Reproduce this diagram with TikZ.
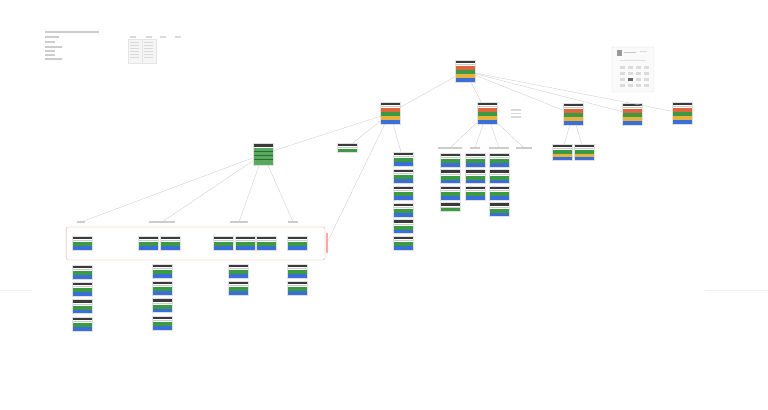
\documentclass[tikz,border=0pt]{standalone}
\usetikzlibrary{positioning}

\definecolor{hdr}{HTML}{3A3A3A}
\definecolor{cardred}{HTML}{E0663F}
\definecolor{cardgreen}{HTML}{3C9A44}
\definecolor{cardyellow}{HTML}{E8B13A}
\definecolor{cardblue}{HTML}{3A6FD8}
\definecolor{linegray}{HTML}{C4C4C4}
\definecolor{boxred}{HTML}{E49C9C}

% one coloured band of a card, #2 = offset from the top, #3 = height (px)
\newcommand{\band}[3]{\fill[#1] (path picture bounding box.north west) ++(0,#2) rectangle ++(30,#3);}

\begin{document}
\begin{tikzpicture}[x=0.5mm, y=-0.5mm]
        % Style Definitions
        \tikzstyle{card} = [rectangle, draw=black!12, fill=white, minimum width=10mm, inner sep=0pt, anchor=north]
        \tikzstyle{full} = [card, minimum height=11mm, path picture={\band{hdr}{0}{3}\band{black!20}{4}{0.6}\band{cardred}{6}{4}\band{cardgreen}{10}{4}\band{cardyellow}{14}{4}\band{cardblue}{18}{4}}]
        \tikzstyle{gb} = [card, minimum height=7mm, path picture={\band{hdr}{0}{3}\band{black!20}{4}{0.6}\band{cardgreen}{6}{4}\band{cardblue}{10}{4}}]
        \tikzstyle{gob} = [card, minimum height=8mm, path picture={\band{hdr}{0}{3}\band{black!20}{4}{0.6}\band{cardgreen}{6}{3.5}\band{cardyellow}{9.5}{3.5}\band{cardblue}{13}{3}}]
        \tikzstyle{gbig} = [card, minimum height=11mm, path picture={\band{hdr}{0}{4}\band{cardgreen!85}{5}{17}\band{cardgreen!70!black}{8}{0.6}\band{cardgreen!70!black}{12}{0.6}\band{cardgreen!70!black}{16}{0.6}}]
        \tikzstyle{gonly} = [card, minimum height=4.5mm, path picture={\band{hdr}{0}{3}\band{black!20}{4}{0.5}\band{cardgreen}{5.5}{3.5}}]
        \tikzstyle{txt} = [rectangle, fill=black!20, inner sep=0pt, minimum height=0.6mm]
        \tikzstyle{link} = [draw=linegray, line width=0.4pt]

        \fill[white] (0,0) rectangle (768,410);
        \draw[black!6] (0,290) -- (32,290) (705,290) -- (768,290);

        % Notes at the top left
        \node (title) [txt, minimum width=27mm, anchor=west] at (45,32) {};
        \foreach \y/\w in {37/7, 42/5, 47/8.5, 51/5, 55/5, 59/8.5}
            \node [txt, minimum width=\w mm, anchor=west] at (45,\y) {};
        \foreach \x in {133, 149, 163, 178}
            \node [txt, fill=black!14, minimum width=2.6mm] at (\x,37) {};
        \draw[black!10, fill=black!4] (128,39) rectangle (142,63) (142,39) rectangle (156,63);
        \foreach \y in {42, 45, 48, 51, 54, 57} {
            \fill[black!15] (130,\y) rectangle (139,\y+0.8);
            \fill[black!15] (144,\y) rectangle (153,\y+0.8);
        }

        % Panel at the top right
        \draw[black!12, fill=black!2, rounded corners=0.5mm] (612,47) rectangle (654,92);
        \fill[black!40] (617,50) rectangle (622,56);
        \fill[black!22] (624,52) rectangle (636,53.2);
        \fill[black!15] (640,51) rectangle (647,52.4);
        \fill[black!12] (620,60) rectangle (646,61);
        \foreach \x in {620, 628, 636, 644}
            \foreach \y in {66, 72, 78, 84}
                \fill[black!14] (\x,\y) rectangle ++(5,3);
        \fill[black!60] (628,78) rectangle ++(5,3);

        % Nodes
        \node (top) [full] at (465,60) {};
        \node (arch) [full] at (390,102) {};
        \node (svc) [full] at (487,102) {};
        \node (ops) [full] at (573,103) {};
        \node (docs) [full] at (632,103) {};
        \node (misc) [full] at (682,102) {};
        \foreach \y in {110, 113.5, 117}
            \node [txt, fill=black!15, minimum width=5mm, anchor=west] at (511,\y) {};

        \node (grp) [gbig] at (263,143) {};
        \node (solo) [gonly] at (347,143) {};

        \node (r1) [gb] at (403,152) {};
        \node (r2) [gb, below=1.3mm of r1] {};
        \node (r3) [gb, below=1.3mm of r2] {};
        \node (r4) [gb, below=1.3mm of r3] {};
        \node (r5) [gb, below=1.3mm of r4] {};
        \node (r6) [gb, below=1.3mm of r5] {};

        \node (lbE) [txt, minimum width=12mm] at (450,148) {};
        \node (lbF) [txt, minimum width=5mm] at (475,148) {};
        \node (lbG) [txt, minimum width=10mm] at (499,148) {};
        \node (lbH) [txt, minimum width=8mm] at (524,148) {};
        \node (e1) [gb] at (450,153) {};
        \node (e2) [gb, below=1.1mm of e1] {};
        \node (e3) [gb, below=1.1mm of e2] {};
        \node (e4) [gonly, below=1.1mm of e3] {};
        \node (f1) [gb] at (475,153) {};
        \node (f2) [gb, below=1.1mm of f1] {};
        \node (f3) [gb, below=1.1mm of f2] {};
        \node (g1) [gb] at (499,153) {};
        \node (g2) [gb, below=1.1mm of g1] {};
        \node (g3) [gb, below=1.1mm of g2] {};
        \node (g4) [gb, below=1.1mm of g3] {};

        \node (o1) [gob] at (562,144) {};
        \node (o2) [gob] at (584,144) {};

        % Red group box
        \draw[boxred, rounded corners=1mm] (66,227) rectangle (325,260);
        \node (redlbl) [rectangle, fill=red!35, inner sep=0pt, minimum width=0.8mm, minimum height=10mm] at (327,243) {};

        \node (lbA) [txt, minimum width=4mm] at (81,222) {};
        \node (lbB) [txt, minimum width=13mm] at (162,222) {};
        \node (lbC) [txt, minimum width=9mm] at (239,222) {};
        \node (lbD) [txt, minimum width=5mm] at (293,222) {};

        \node (a0) [gb] at (82,236) {};
        \node (b0) [gb] at (148,236) {};
        \node (b0x) [gb] at (170,236) {};
        \node (c0) [gb] at (223,236) {};
        \node (c0x) [gb] at (245,236) {};
        \node (c0y) [gb] at (266,236) {};
        \node (d0) [gb] at (297,236) {};

        \node (a1) [gb] at (82,265) {};
        \node (a2) [gb, below=1.5mm of a1] {};
        \node (a3) [gb, below=1.5mm of a2] {};
        \node (a4) [gb, below=1.5mm of a3] {};
        \node (b1) [gb] at (162,264) {};
        \node (b2) [gb, below=1.5mm of b1] {};
        \node (b3) [gb, below=1.5mm of b2] {};
        \node (b4) [gb, below=1.5mm of b3] {};
        \node (c1) [gb] at (238,264) {};
        \node (c2) [gb, below=1.5mm of c1] {};
        \node (d1) [gb] at (297,264) {};
        \node (d2) [gb, below=1.5mm of d1] {};

        % Links
        \draw[link] (top) -- (arch);
        \draw[link] (top) -- (svc);
        \draw[link] (top) -- (ops);
        \draw[link] (top) -- (docs);
        \draw[link] (top) -- (misc);
        \draw[link] (arch) -- (grp);
        \draw[link] (arch) -- (solo);
        \draw[link] (arch) -- (redlbl);
        \draw[link] (arch) -- (r1);
        \draw[link] (grp) -- (lbA);
        \draw[link] (grp) -- (lbB);
        \draw[link] (grp) -- (lbC);
        \draw[link] (grp) -- (lbD);
        \draw[link] (svc) -- (lbE);
        \draw[link] (svc) -- (lbF);
        \draw[link] (svc) -- (lbG);
        \draw[link] (svc) -- (lbH);
        \draw[link] (ops) -- (o1);
        \draw[link] (ops) -- (o2);

\end{tikzpicture}
\end{document}
